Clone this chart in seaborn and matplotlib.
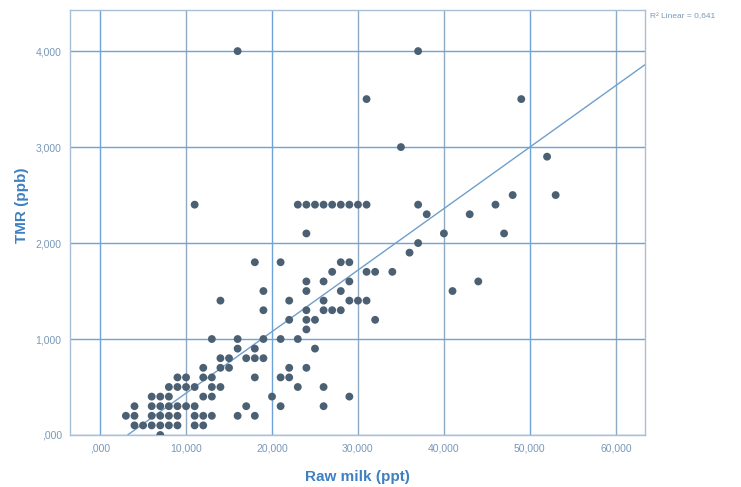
import numpy as np
import pandas as pd
import matplotlib
matplotlib.use("Agg")
import matplotlib.pyplot as plt
import seaborn as sns

# points, grouped by TMR value (ppb)
tmr_levels = [4.0, 3.5, 3.0, 2.9, 2.5, 2.4, 2.3, 2.1, 2.0, 1.9, 1.8, 1.7, 1.6, 1.5,
              1.4, 1.3, 1.2, 1.1, 1.0, 0.9, 0.8, 0.7, 0.6, 0.5, 0.4, 0.3, 0.2, 0.1, 0.0]
raw_milk_at_level = [
    [16, 37],
    [31, 49],
    [35],
    [52],
    [48, 53],
    [11, 23, 24, 25, 26, 27, 28, 29, 30, 31, 37, 46],
    [38, 43],
    [24, 40, 47],
    [37],
    [36],
    [18, 21, 28, 29],
    [27, 31, 32, 34],
    [24, 26, 29, 44],
    [19, 24, 28, 41],
    [14, 22, 26, 29, 30, 31],
    [19, 24, 26, 27, 28],
    [22, 24, 25, 32],
    [24],
    [13, 16, 19, 21, 23],
    [16, 18, 25],
    [14, 15, 17, 18, 19],
    [12, 14, 15, 22, 24],
    [9, 10, 12, 13, 18, 21, 22],
    [8, 9, 10, 11, 13, 14, 23, 26],
    [6, 7, 8, 12, 13, 20, 29],
    [4, 6, 7, 8, 9, 10, 11, 17, 21, 26],
    [3, 4, 6, 7, 8, 9, 11, 12, 13, 16, 18],
    [4, 5, 6, 7, 8, 9, 11, 12],
    [7],
]

# linear fit as shown on the chart
fit_intercept = -0.205
fit_slope = 0.0641
r2_text = "R\u00b2 Linear = 0,641"

x_ticks = [0, 10, 20, 30, 40, 50, 60]
y_ticks = [0, 1, 2, 3, 4]

rows = []
for lvl, xs in zip(tmr_levels, raw_milk_at_level):
    for xv in xs:
        rows.append((float(xv), lvl))
df = pd.DataFrame(rows, columns=["raw_milk", "tmr"])


def spss_fmt(v):
    s = f"{v:.3f}".replace(".", ",")
    if s.startswith("0,"):
        s = s[1:]
    return s


sns.set_theme(style="white")
plt.rcParams["font.family"] = ["Liberation Sans", "DejaVu Sans"]

fig = plt.figure(figsize=(7.41, 4.87), dpi=100)
ax = fig.add_axes([0.0945, 0.1068, 0.776, 0.873])

sns.scatterplot(data=df, x="raw_milk", y="tmr", ax=ax, color="#4b6072",
                s=32, edgecolor="none", zorder=3)
ax.axline((0, fit_intercept), slope=fit_slope, color="#6f9fcc", lw=1.0, zorder=2)

ax.set_xlim(-3.5, 63.4)
ax.set_ylim(0, 4.43)
ax.set_xticks(x_ticks)
ax.set_yticks(y_ticks)
ax.set_xticklabels([spss_fmt(v) for v in x_ticks])
ax.set_yticklabels([spss_fmt(v) for v in y_ticks])
ax.tick_params(axis="both", length=0, labelsize=7.5, colors="#7898b8", pad=6)

ax.grid(True, color="#6fa3d6", lw=1.0, zorder=0)
for gl, v in zip(ax.get_xgridlines(), x_ticks):
    if v in (10, 30, 40, 60):
        gl.set_color("#8fa9c2")
for sp in ax.spines.values():
    sp.set_color("#a9bfd3")
    sp.set_linewidth(1.0)

ax.set_xlabel("Raw milk (ppt)", fontsize=11, fontweight="bold", color="#3f80c0",
              labelpad=12)
ax.set_ylabel("TMR (ppb)", fontsize=11, fontweight="bold", color="#3f80c0")
ax.yaxis.set_label_coords(-0.072, 0.54)

fig.text(650 / 741, 1 - 17 / 487, r2_text, fontsize=6, color="#7898b8",
         ha="left", va="center")

fig.savefig("out.png", dpi=100)
